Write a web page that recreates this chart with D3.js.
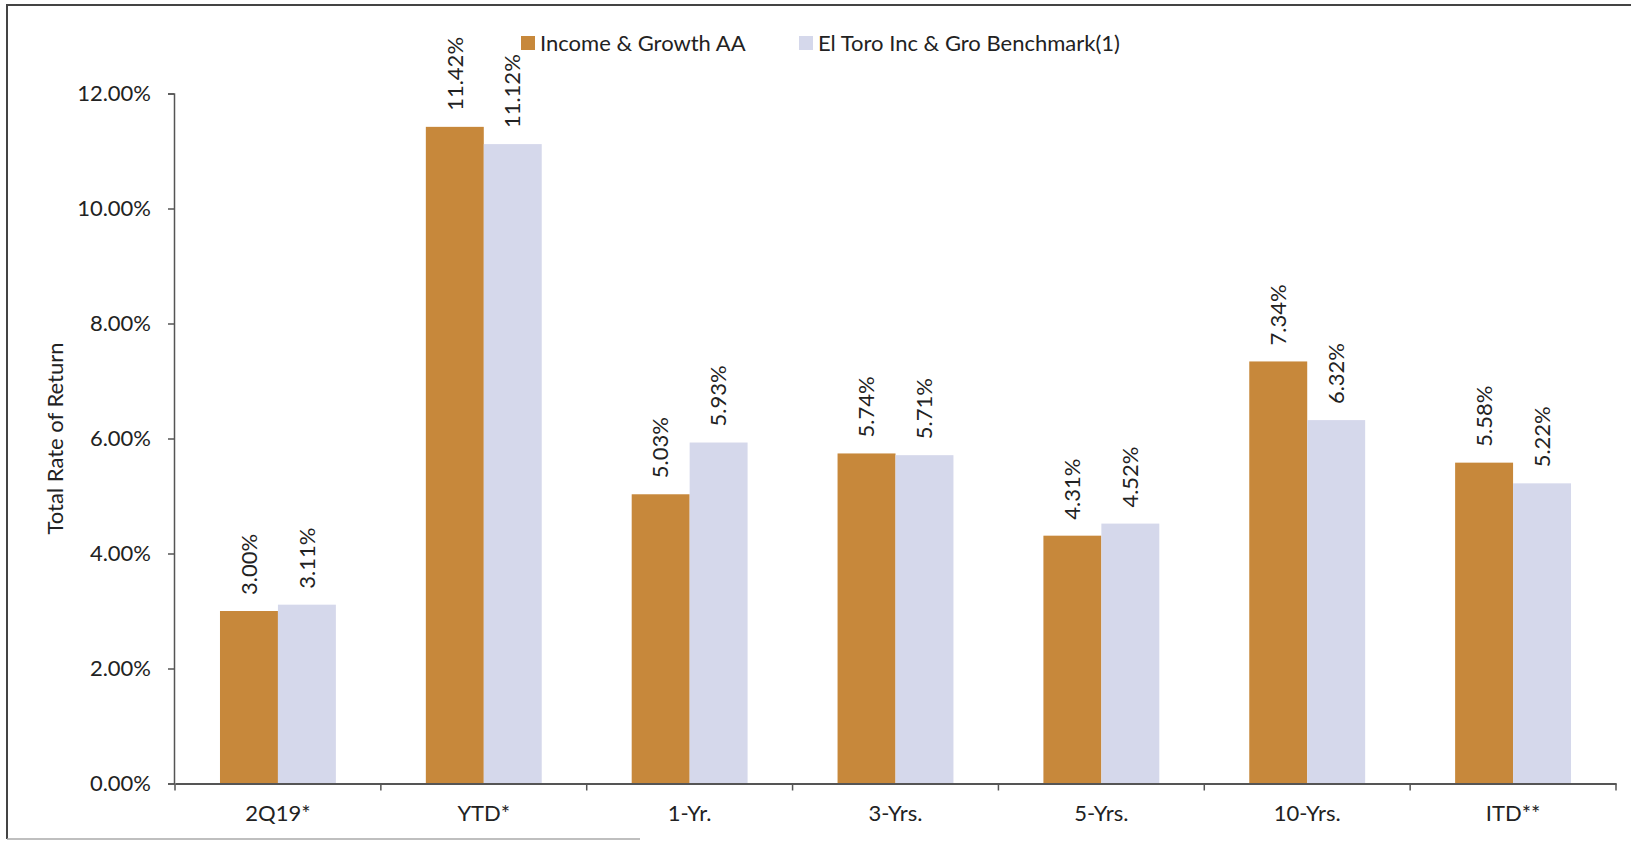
<!DOCTYPE html>
<html>
<head>
<meta charset="utf-8">
<script src="https://cdn.jsdelivr.net/npm/d3@7"></script>
<style>
  body { margin: 0; background: #fff; }
  svg text { font-family: Lato, "Open Sans", sans-serif; fill: #222; }
</style>
</head>
<body>
<div id="chart"></div>
<script>
// data
var categories = ["2Q19*", "YTD*", "1-Yr.", "3-Yrs.", "5-Yrs.", "10-Yrs.", "ITD**"];
var seriesNames = ["Income & Growth AA", "El Toro Inc & Gro Benchmark(1)"];
var incomeGrowth = [3.00, 11.42, 5.03, 5.74, 4.31, 7.34, 5.58];
var benchmark = [3.11, 11.12, 5.93, 5.71, 4.52, 6.32, 5.22];
var yTicks = [0, 2, 4, 6, 8, 10, 12];
var colors = ["#c7883b", "#d5d8eb"];

var W = 1631, H = 843;
var fs = 22;

var svg = d3.select("#chart")
    .append("svg")
    .attr("width", W)
    .attr("height", H);

// frame of the scanned page
svg.append("path")
    .attr("d", "M7,839 L7,5 L1631,5")
    .attr("fill", "none")
    .attr("stroke", "#444")
    .attr("stroke-width", 2);
svg.append("line")
    .attr("x1", 7).attr("x2", 640)
    .attr("y1", 839).attr("y2", 839)
    .attr("stroke", "#aaa")
    .attr("stroke-width", 1.5);

var x0 = d3.scaleBand()
    .domain(categories)
    .range([175, 1616])
    .paddingInner(0.437)
    .paddingOuter(0.2185);

var x1 = d3.scaleBand()
    .domain(d3.range(seriesNames.length))
    .range([0, x0.bandwidth()]);

var y = d3.scaleLinear()
    .domain([0, 12])
    .range([783.5, 93.5]);

var rows = categories.map(function (c, i) {
    return { cat: c, values: [incomeGrowth[i], benchmark[i]] };
});

// bars
var groups = svg.selectAll("g.cat")
    .data(rows)
    .enter()
    .append("g")
    .attr("class", "cat")
    .attr("transform", function (d) { return "translate(" + x0(d.cat) + ",0)"; });

groups.selectAll("rect")
    .data(function (d) { return d.values; })
    .enter()
    .append("rect")
    .attr("x", function (d, i) { return x1(i); })
    .attr("y", function (d) { return y(d); })
    .attr("width", x1.bandwidth())
    .attr("height", function (d) { return y(0) - y(d); })
    .attr("fill", function (d, i) { return colors[i]; });

// value labels, rotated
groups.selectAll("text.val")
    .data(function (d) { return d.values; })
    .enter()
    .append("text")
    .attr("class", "val")
    .attr("transform", function (d, i) {
        return "translate(" + (x1(i) + x1.bandwidth() / 2) + "," + (y(d) - 16) + ") rotate(-90)";
    })
    .attr("dy", "0.35em")
    .style("font-size", fs + "px")
    .text(function (d) { return d.toFixed(2) + "%"; });

// y axis
var yAxis = d3.axisLeft(y)
    .tickValues(yTicks)
    .tickSize(6)
    .tickPadding(17)
    .tickFormat(function (d) { return d.toFixed(2) + "%"; });

var gy = svg.append("g")
    .attr("transform", "translate(174,0)")
    .call(yAxis);
gy.selectAll("text").style("font-size", fs + "px").attr("fill", "#222");
gy.selectAll("line,path").attr("stroke", "#555").attr("stroke-width", 1.5);

// x axis: labels at category centres, ticks at boundaries
var xAxis = d3.axisBottom(x0)
    .tickSize(0)
    .tickPadding(22);

var gx = svg.append("g")
    .attr("transform", "translate(0," + y(0) + ")")
    .call(xAxis);
gx.select("path").attr("stroke", "#555").attr("stroke-width", 2);
gx.selectAll("text").style("font-size", fs + "px").attr("fill", "#222");

var bounds = d3.range(categories.length + 1).map(function (i) {
    return x0.range()[0] + i * x0.step();
});
gx.selectAll("line.bound")
    .data(bounds)
    .enter()
    .append("line")
    .attr("class", "bound")
    .attr("x1", function (d) { return d; })
    .attr("x2", function (d) { return d; })
    .attr("y1", 0)
    .attr("y2", 7)
    .attr("stroke", "#555")
    .attr("stroke-width", 1.5);

// y axis title
svg.append("text")
    .attr("transform", "translate(55," + ((y(0) + y(12)) / 2) + ") rotate(-90)")
    .attr("text-anchor", "middle")
    .attr("dy", "0.35em")
    .style("font-size", fs + "px")
    .text("Total Rate of Return");

// legend
var legendX = [521, 799];
var legend = svg.selectAll("g.legend")
    .data(seriesNames)
    .enter()
    .append("g")
    .attr("class", "legend")
    .attr("transform", function (d, i) { return "translate(" + legendX[i] + ",43)"; });

legend.append("rect")
    .attr("x", 0)
    .attr("y", -7)
    .attr("width", 14)
    .attr("height", 14)
    .attr("fill", function (d, i) { return colors[i]; });

legend.append("text")
    .attr("x", 19)
    .attr("dy", "0.35em")
    .style("font-size", fs + "px")
    .text(function (d) { return d; });
</script>
</body>
</html>
